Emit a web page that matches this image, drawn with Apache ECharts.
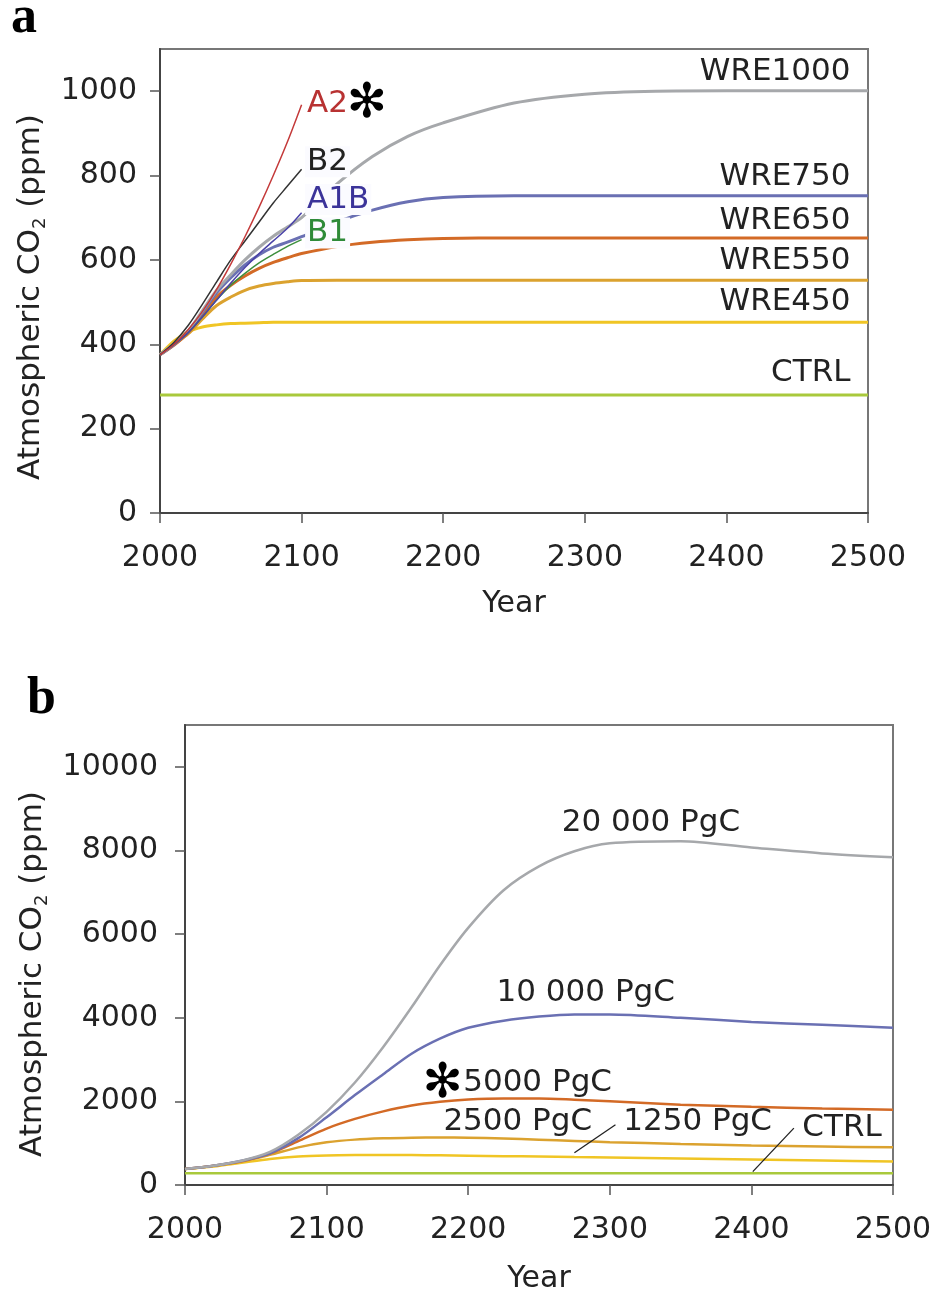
<!DOCTYPE html>
<html><head><meta charset="utf-8">
<script src="https://cdn.jsdelivr.net/npm/echarts@6/dist/echarts.min.js"></script>
<style>html,body{margin:0;padding:0;background:#fff}#c{width:940px;height:1297px}</style>
</head><body><div id="c"></div>
<script>
// ---------- Panel a data ----------
const yearsA = [2000,2010,2020,2030,2040,2050,2060,2070,2080,2090,2100,2125,2150,2175,2200,2250,2300,2350,2400,2450,2500];
const wre450  = [375,408,430,441,446,449,450,451,452,452,452,452,452,452,452,452,452,452,452,452,452];
const wre550  = [375,400,425,460,492,512,528,538,544,548,551,552,552,552,552,552,552,552,552,552,552];
const wre650  = [375,398,428,470,512,540,562,580,594,605,615,632,642,648,651,652,652,652,652,652,652];
const wre750  = [375,400,430,476,522,558,588,612,630,642,655,690,718,738,748,752,752,752,752,752,752];
const wre1000 = [375,402,432,480,528,565,600,630,656,678,700,780,845,893,925,972,993,1000,1001,1001,1001];
const yearsCtrl = [2000,2500];
const ctrlA = [280,280];
const yearsS = [2000,2010,2020,2030,2040,2050,2060,2070,2080,2090,2100];
const sresA2  = [375,400,435,478,530,590,655,725,800,880,968];
const sresB2  = [375,405,445,495,548,600,645,690,735,775,815];
const sresA1B = [375,400,428,465,505,545,582,615,645,675,712];
const sresB1  = [375,400,428,465,505,540,568,593,613,632,648];
// ---------- Panel b data ----------
const yearsB = [2000,2020,2040,2060,2080,2100,2120,2140,2160,2180,2200,2225,2250,2275,2300,2350,2400,2450,2500];
const pgc20000 = [380,460,580,790,1200,1750,2450,3300,4250,5250,6150,7050,7620,7980,8170,8220,8070,7930,7840];
const pgc10000 = [380,460,580,760,1120,1620,2150,2650,3140,3500,3760,3930,4030,4080,4080,4000,3900,3830,3760];
const pgc5000  = [380,460,570,750,1050,1350,1580,1760,1900,1990,2045,2070,2070,2040,2000,1920,1870,1830,1800];
const pgc2500  = [380,455,560,720,900,1020,1085,1115,1130,1135,1130,1110,1085,1055,1025,980,945,920,900];
const pgc1250  = [380,440,530,620,680,705,715,718,715,710,702,690,680,668,656,632,608,585,562];
const ctrlB = [280,280];
// ---------- Ticks ----------
const xTicks = [2000,2100,2200,2300,2400,2500];
const yTicksA = [0,200,400,600,800,1000];
const yTicksB = [0,2000,4000,6000,8000,10000];

const FONT = 'DejaVu Sans';
const TXT = '#222';
const pairs = (xs, ys) => xs.map((x,i)=>[x, ys[i]]);

function xAxis(gi, gap){
  return {type:'value', gridIndex:gi, min:2000, max:2500, interval:100,
    name:'Year', nameLocation:'middle', nameGap:gap,
    nameTextStyle:{fontFamily:FONT, fontSize:30, color:TXT},
    axisLine:{show:true, onZero:false, lineStyle:{color:'#444', width:2}},
    axisTick:{show:true, inside:false, length:10, lineStyle:{color:'#555', width:1.5}, customValues:xTicks},
    axisLabel:{fontFamily:FONT, fontSize:30, color:TXT, margin:30, formatter:v=>String(v), customValues:xTicks},
    splitLine:{show:false}};
}
function yAxis(gi, max, interval, ticks, gap, margin, shift){
  return {type:'value', gridIndex:gi, min:0, max:max, interval:interval,
    name:'{t|Atmospheric CO}{s|2}{t| (ppm)}', nameLocation:'middle', nameGap:gap,
    nameTextStyle:{fontFamily:FONT, fontSize:31, color:TXT, padding:[0,shift,0,0],
      rich:{t:{fontFamily:FONT, fontSize:31, color:TXT, lineHeight:38},
            s:{fontFamily:FONT, fontSize:18, color:TXT, lineHeight:21, verticalAlign:'bottom'}}},
    axisLine:{show:true, lineStyle:{color:'#444', width:2}},
    axisTick:{show:true, inside:false, length:10, lineStyle:{color:'#555', width:1.5}, customValues:ticks},
    axisLabel:{fontFamily:FONT, fontSize:30, color:TXT, margin:margin, formatter:v=>String(v), customValues:ticks},
    splitLine:{show:false}};
}
function line(name, gi, xs, ys, color, width, z, extra){
  return Object.assign({type:'line', name:name, xAxisIndex:gi, yAxisIndex:gi, data:pairs(xs,ys),
    showSymbol:false, symbol:'none', smooth:0.3, z:z,
    lineStyle:{color:color, width:width}, itemStyle:{color:color}, silent:true}, extra||{});
}
function mp(items){
  return {symbol:'circle', symbolSize:1, itemStyle:{color:'rgba(0,0,0,0)'}, silent:true,
    data: items.map(it=>({coord:it.coord, label:Object.assign({show:true, fontFamily:FONT, fontSize:31, color:TXT, position:'inside'}, it.label)}))};
}
function wreLabel(text, y){
  return mp([{coord:[2488, y], label:{formatter:text, position:'left', distance:0}}]);
}
function sresLabel(text, y, color){
  return mp([{coord:[2100, y], label:{formatter:text, position:'right', distance:3, color:color,
    backgroundColor:'#fbfbff', padding:[0,2,0,2]}}]);
}
const AST = {formatter:'\u273B', fontSize:48, color:'#000', fontFamily:FONT};

const option = {
  animation:false,
  backgroundColor:'#fff',
  grid:[
    {left:160, right:72, top:49, height:464, show:true, borderColor:'#777', borderWidth:2, backgroundColor:'transparent'},
    {left:185, right:47, top:725, height:460, show:true, borderColor:'#777', borderWidth:2, backgroundColor:'transparent'}
  ],
  xAxis:[xAxis(0,76), xAxis(1,79)],
  yAxis:[yAxis(0,1100,100,yTicksA,108,23,32), yAxis(1,11000,1000,yTicksB,133,27,38)],
  graphic:[
    {type:'text', left:11, top:-7, style:{text:'a', font:'bold 52px "Liberation Serif"', fill:'#000'}},
    {type:'text', left:27, top:674, style:{text:'b', font:'bold 52px "Liberation Serif"', fill:'#000'}}
  ],
  series:[
    line('CTRL', 0, yearsCtrl, ctrlA, '#a9c93c', 3, 2, {markPoint:wreLabel('CTRL', 332)}),
    line('WRE450', 0, yearsA, wre450, '#f0c525', 3, 2, {markPoint:wreLabel('WRE450', 501)}),
    line('WRE550', 0, yearsA, wre550, '#dba22f', 3, 2, {markPoint:wreLabel('WRE550', 598)}),
    line('WRE650', 0, yearsA, wre650, '#d36a26', 3, 2, {markPoint:wreLabel('WRE650', 693)}),
    line('WRE750', 0, yearsA, wre750, '#6a70b3', 3, 2, {markPoint:wreLabel('WRE750', 797)}),
    line('WRE1000', 0, yearsA, wre1000, '#a6a8ab', 3, 2, {markPoint:wreLabel('WRE1000', 1046)}),
    line('B1', 0, yearsS, sresB1, '#3d8f3d', 1.5, 5, {markPoint:sresLabel('B1', 664, '#2e8a38')}),
    line('A1B', 0, yearsS, sresA1B, '#4a42a8', 1.5, 5, {markPoint:sresLabel('A1B', 743, '#3b3399')}),
    line('B2', 0, yearsS, sresB2, '#333333', 1.5, 5, {markPoint:sresLabel('B2', 833, '#222')}),
    line('A2', 0, yearsS, sresA2, '#c43a3a', 1.5, 6, {markPoint:mp([
      {coord:[2100, 970], label:{formatter:'A2', position:'right', distance:3, color:'#b83232', backgroundColor:'#fff', padding:[0,2,0,2]}},
      {coord:[2146, 968], label:AST}
    ])}),
    // panel b
    line('CTRL b', 1, yearsCtrl, ctrlB, '#a9c93c', 2.5, 2, {
      markPoint:mp([{coord:[2464, 1367], label:{formatter:'CTRL'}}]),
      markLine:{symbol:'none', silent:true, label:{show:false}, lineStyle:{color:'#222', width:1.3, type:'solid'},
        data:[[{coord:[2401, 320]},{coord:[2430, 1360]}]]}}),
    line('1250 PgC', 1, yearsB, pgc1250, '#f0c525', 2.5, 2, {
      markPoint:mp([{coord:[2362, 1510], label:{formatter:'1250 PgC'}}]),
      markLine:{symbol:'none', silent:true, label:{show:false}, lineStyle:{color:'#222', width:1.3, type:'solid'},
        data:[[{coord:[2275, 770]},{coord:[2304, 1440]}]]}}),
    line('2500 PgC', 1, yearsB, pgc2500, '#dba22f', 2.5, 2, {markPoint:mp([{coord:[2235, 1510], label:{formatter:'2500 PgC'}}])}),
    line('5000 PgC', 1, yearsB, pgc5000, '#d36a26', 2.5, 2, {markPoint:mp([
      {coord:[2249, 2446], label:{formatter:'5000 PgC'}},
      {coord:[2182, 2400], label:AST}
    ])}),
    line('10 000 PgC', 1, yearsB, pgc10000, '#6a70b3', 2.5, 2, {markPoint:mp([{coord:[2283, 4600], label:{formatter:'10 000 PgC'}}])}),
    line('20 000 PgC', 1, yearsB, pgc20000, '#a6a8ab', 2.5, 2, {markPoint:mp([{coord:[2329, 8657], label:{formatter:'20 000 PgC'}}])})
  ]
};
const chart = echarts.init(document.getElementById('c'), null, {renderer:'canvas'});
chart.setOption(option);
</script>
</body></html>
